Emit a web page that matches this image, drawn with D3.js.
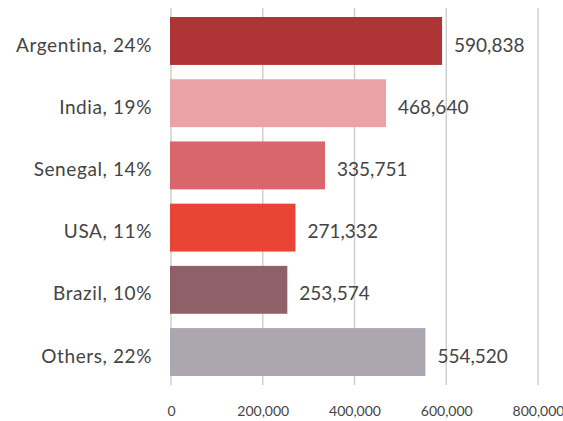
<!DOCTYPE html>
<html><head><meta charset="utf-8">
<script src="https://cdn.jsdelivr.net/npm/d3@7"></script>
<style>body{margin:0;background:#fff}svg{display:block}</style>
</head><body>
<svg id="c" width="563" height="421"></svg>
<script>
const categories = ["Argentina, 24%","India, 19%","Senegal, 14%","USA, 11%","Brazil, 10%","Others, 22%"];
const values = [590838,468640,335751,271332,253574,554520];
const colors = ["#AE3435","#EBA3A7","#D9666A","#E84535","#8F6068","#ACA6B1"];
const ticks = [0,200000,400000,600000,800000];

const svg = d3.select("#c");
const font = "Lato, 'Open Sans', sans-serif";
const x = d3.scaleLinear().domain([0,800000]).range([171,538]);
const y = d3.scaleBand().domain(categories).range([8,385]).paddingInner(0.23).paddingOuter(0.145);
const data = categories.map((c,i)=>({c,v:values[i],col:colors[i]}));

svg.append("g").selectAll("line").data(ticks).join("line")
  .attr("x1",d=>x(d)).attr("x2",d=>x(d)).attr("y1",8).attr("y2",385)
  .attr("stroke","#d0d0d0").attr("stroke-width",1.5);

svg.append("g").selectAll("rect").data(data).join("rect")
  .attr("x",x(0)-1).attr("y",d=>y(d.c)).attr("width",d=>x(d.v)-x(0)+1).attr("height",y.bandwidth())
  .attr("fill",d=>d.col);

svg.append("g").selectAll("text").data(data).join("text")
  .attr("x",152).attr("y",d=>y(d.c)+y.bandwidth()/2+4).attr("dy","0.35em")
  .attr("text-anchor","end").attr("font-family",font).attr("font-size",19).attr("fill","#444")
  .attr("letter-spacing","0.6px")
  .text(d=>d.c);

svg.append("g").selectAll("text").data(data).join("text")
  .attr("x",d=>x(d.v)+12).attr("y",d=>y(d.c)+y.bandwidth()/2+4).attr("dy","0.35em")
  .attr("font-family",font).attr("font-size",19).attr("fill","#444")
  .text(d=>d3.format(",")(d.v));

const ax = d3.axisBottom(x).tickValues(ticks).tickFormat(d3.format(",")).tickSize(0).tickPadding(0);
const g = svg.append("g").attr("transform","translate(0,406)").call(ax);
g.select(".domain").remove();
g.selectAll("text").attr("font-family",font).attr("font-size",14).attr("fill","#444");
</script>
</body></html>
